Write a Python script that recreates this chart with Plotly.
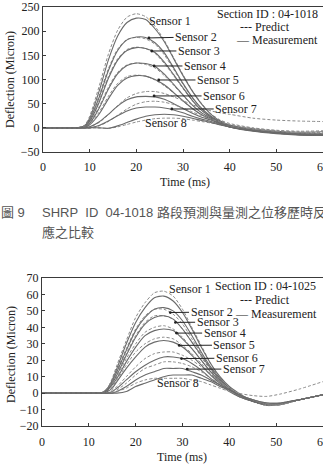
import plotly.graph_objects as go

# ---------------- data: chart 1 (Section ID 04-1018) ----------------
t1 = [0, 7, 8, 9, 10, 12, 14, 16, 18, 20, 22, 24, 26, 28, 30, 32, 34, 36, 38, 40, 45, 50, 55, 60]
meas1 = {
    "Sensor 1": [0, 0, 1, 5, 20, 75, 140, 190, 218, 227, 224, 205, 178, 143, 108, 76, 49, 28, 14, 6, -2, -7, -9, -8],
    "Sensor 2": [0, 0, 1, 4, 16, 62, 118, 160, 182, 188, 187, 176, 155, 124, 92, 63, 40, 24, 12, 5, -4, -9, -12, -12],
    "Sensor 3": [0, 0, 1, 3, 13, 52, 102, 140, 160, 166, 164, 156, 136, 110, 83, 57, 36, 22, 11, 4, -5, -10, -13, -14],
    "Sensor 4": [0, 0, 0, 2, 9, 40, 80, 112, 129, 134, 133, 127, 111, 90, 68, 47, 31, 20, 10, 3, -6, -11, -14, -15],
    "Sensor 5": [0, 0, 0, 1, 6, 28, 60, 88, 103, 108, 107, 100, 89, 73, 56, 40, 27, 18, 9, 2, -7, -12, -15, -16],
    "Sensor 6": [0, 0, 0, 0, 2, 12, 28, 45, 58, 64, 65, 64, 59, 50, 40, 30, 22, 16, 8, 2, -6, -11, -14, -15],
    "Sensor 7": [0, 0, 0, 0, 0, 5, 14, 25, 35, 41, 43, 43, 41, 37, 31, 24, 18, 13, 7, 2, -5, -10, -13, -14],
    "Sensor 8": [0, 0, 0, 0, 0, 0, -1, 4, 11, 18, 24, 27, 28, 27, 24, 20, 15, 11, 6, 2, -5, -10, -13, -14],
}
pred1 = {
    "Sensor 1": [0, 0, 1, 6, 24, 85, 152, 202, 229, 236, 230, 210, 181, 145, 110, 77, 50, 29, 16, 9, 0, -5, -7, -6],
    "Sensor 2": [0, 0, 1, 5, 18, 66, 122, 163, 183, 187, 184, 173, 151, 121, 90, 62, 40, 23, 12, 5, -3, -8, -11, -11],
    "Sensor 3": [0, 0, 1, 4, 15, 56, 106, 143, 162, 167, 164, 154, 133, 108, 81, 56, 36, 21, 11, 4, -4, -9, -12, -13],
    "Sensor 4": [0, 0, 1, 3, 11, 43, 84, 115, 130, 134, 131, 124, 108, 88, 67, 47, 31, 19, 9, 3, -5, -10, -13, -14],
    "Sensor 5": [0, 0, 0, 2, 8, 32, 65, 92, 106, 109, 107, 99, 87, 72, 55, 40, 27, 17, 8, 2, -6, -11, -14, -15],
    "Sensor 6": [0, 0, 0, 0, 2, 11, 27, 46, 62, 71, 75, 75, 71, 64, 56, 48, 41, 35, 31, 28, 20, 16, 14, 13],
    "Sensor 7": [0, 0, 0, 0, 0, 4, 13, 26, 39, 49, 54, 55, 53, 48, 41, 33, 25, 18, 12, 7, -1, -6, -9, -10],
    "Sensor 8": [0, 0, 0, 0, 0, 0, -1, 2, 7, 12, 16, 19, 20, 20, 19, 16, 13, 10, 6, 3, -3, -8, -11, -12],
}

# ---------------- data: chart 2 (Section ID 04-1025) ----------------
t2 = [0, 12, 13, 14, 15, 16, 18, 20, 22, 24, 26, 28, 30, 32, 34, 36, 38, 40, 42, 45, 48, 51, 55, 60]
meas2 = {
    "Sensor 1": [0, 0, 0.5, 3, 8, 15, 30, 43, 52, 58, 59, 56, 49, 39, 28, 18, 10, 4, 0, -5, -7, -6.5, -4, -1],
    "Sensor 2": [0, 0, 0.5, 2, 7, 13, 26, 38, 46, 51, 52, 50, 44, 35, 25, 16, 9, 3, -1, -5, -7, -6.5, -4, -1],
    "Sensor 3": [0, 0, 0, 2, 6, 11, 23, 34, 42, 46, 47, 45, 39, 31, 23, 15, 8, 3, -1, -5, -7, -6.5, -4, -1],
    "Sensor 4": [0, 0, 0, 2, 5, 9, 19, 28, 35, 38, 39, 38, 33, 27, 20, 13, 7, 2, -1, -5, -7, -6.5, -4, -1],
    "Sensor 5": [0, 0, 0, 1, 3, 7, 15, 22, 28, 31, 32, 31, 28, 23, 17, 11, 6, 2, -1, -5, -7, -6.5, -4, -1],
    "Sensor 6": [0, 0, 0, 0, 1, 3, 8, 13, 17, 20, 22, 22, 21, 18, 14, 9, 5, 1, -2, -5, -7, -6.5, -4, -1],
    "Sensor 7": [0, 0, 0, 0, 0, 1, 4, 8, 11, 13, 15, 15, 15, 13, 11, 8, 5, 2, -1, -4, -6, -6, -4, -1],
    "Sensor 8": [0, 0, 0, 0, 0, 0, 1, 4, 6, 8, 10, 11, 11, 11, 9, 7, 4, 2, -1, -4, -6, -6, -4, -1],
}
pred2 = {
    "Sensor 1": [0, 0, 0.5, 3, 9, 17, 32, 46, 55, 61, 62, 59, 51, 40, 29, 18, 9, 3, -1, -5, -7.5, -7, -4, -1],
    "Sensor 2": [0, 0, 0.5, 3, 8, 14, 27, 39, 47, 51, 51, 48, 42, 33, 24, 15, 8, 2, -2, -5, -7.5, -7, -4, -1],
    "Sensor 3": [0, 0, 0.5, 2, 7, 12, 24, 35, 43, 47, 47, 45, 39, 31, 22, 14, 7, 2, -2, -5, -7.5, -7, -4, -1],
    "Sensor 4": [0, 0, 0, 2, 6, 10, 21, 30, 37, 40, 41, 39, 34, 27, 20, 13, 7, 2, -2, -5, -7.5, -7, -4, -1],
    "Sensor 5": [0, 0, 0, 1, 4, 8, 17, 25, 30, 33, 34, 33, 29, 24, 18, 12, 6, 2, -2, -5, -7.5, -7, -4, -1],
    "Sensor 6": [0, 0, 0, 0, 2, 4, 10, 16, 21, 24, 25, 25, 23, 20, 16, 11, 7, 3, 0, -1.5, -2, -0.5, 2.5, 7],
    "Sensor 7": [0, 0, 0, 0, 1, 2, 6, 11, 15, 17, 19, 19, 18, 16, 13, 9, 6, 2, -1, -4, -7, -7, -4, -1],
    "Sensor 8": [0, 0, 0, 0, 0, 1, 3, 6, 8, 9, 9, 9, 9, 8, 7, 5, 3, 1, -1, -4, -6.5, -6.5, -4, -1],
}

# label positions (text centre) and arrow target points
labels1 = ["Sensor 1", "Sensor 2", "Sensor 3", "Sensor 4", "Sensor 5", "Sensor 6", "Sensor 7", "Sensor 8"]
label_txt1 = [(27.2, 221), (32.8, 188), (33.4, 159), (34.7, 128), (37.5, 99), (38.8, 66), (41.4, 39), (26.4, 10)]
label_pt1 = [None, (22.7, 186), (23.3, 159), (23.8, 128), (24.8, 99), (23.8, 66), (27.6, 39), None]
label_txt2 = [(31.7, 63.3), (36.2, 49.3), (37.5, 43.2), (39.0, 36.5), (41.1, 29.2), (41.6, 21.3), (43.1, 14.6), (29.1, 6.1)]
label_pt2 = [None, (27.4, 49), (28.5, 43), (28.7, 36.5), (29.3, 29), (29.8, 21), (31.0, 14.6), None]

xticks = [0, 10, 20, 30, 40, 50, 60]
yticks1 = [-50, 0, 50, 100, 150, 200, 250]
yticks2 = [-20, -10, 0, 10, 20, 30, 40, 50, 60, 70]

W, H = 323, 466
SERIF = "Liberation Serif, Times New Roman, serif"
TXT = "#222222"

fig = go.Figure()

def add_curves(t, meas, pred, xa, ya):
    for name in meas:
        fig.add_trace(go.Scatter(x=t, y=pred[name], mode="lines", xaxis=xa, yaxis=ya,
                                 line=dict(color="#8a8a8a", width=1, dash="3px,2px", shape="spline", smoothing=0.7),
                                 showlegend=False, hoverinfo="skip"))
        fig.add_trace(go.Scatter(x=t, y=meas[name], mode="lines", xaxis=xa, yaxis=ya,
                                 line=dict(color="#6a6a6a", width=1.1, shape="spline", smoothing=0.7),
                                 showlegend=False, hoverinfo="skip"))

add_curves(t1, meas1, pred1, "x", "y")
add_curves(t2, meas2, pred2, "x2", "y2")

axis_common = dict(showline=True, linecolor="#3a3a3a", linewidth=1.3, ticks="inside", ticklen=3,
                   tickcolor="#3a3a3a", showgrid=False, zeroline=False, automargin=False,
                   tickfont=dict(family=SERIF, size=12, color=TXT))

fig.update_layout(
    width=W, height=H, margin=dict(l=0, r=0, t=0, b=0, autoexpand=False),
    paper_bgcolor="white", plot_bgcolor="white",
    xaxis=dict(domain=[43 / W, 1.0], range=[0, 60], tickvals=xticks, mirror=True,
               anchor="y", ticklabeloverflow="allow", ticklabelstandoff=3, **axis_common),
    yaxis=dict(domain=[1 - 152 / H, 1 - 7 / H], range=[-50, 250], tickvals=yticks1,
               anchor="x", **axis_common),
    xaxis2=dict(domain=[42 / W, 1.0], range=[0, 60], tickvals=xticks, mirror=True,
                anchor="y2", ticklabeloverflow="allow", ticklabelstandoff=4, **axis_common),
    yaxis2=dict(domain=[1 - 426 / H, 1 - 278 / H], range=[-20, 70], tickvals=yticks2,
                anchor="x2", **axis_common),
)

ann = []

def add_labels(txt, pts, xr, yr):
    for name, (tx, ty), p in zip(labels1, txt, pts):
        if p is None:
            ann.append(dict(x=tx, y=ty, xref=xr, yref=yr, text=name, showarrow=False,
                            font=dict(family=SERIF, size=12, color=TXT)))
        else:
            ann.append(dict(x=p[0], y=p[1], xref=xr, yref=yr, ax=tx, ay=ty, axref=xr, ayref=yr,
                            text=name, showarrow=True, arrowhead=6, arrowsize=0.7, arrowwidth=1,
                            arrowcolor="#222222", standoff=0, startstandoff=0,
                            font=dict(family=SERIF, size=12, color=TXT)))

add_labels(label_txt1, label_pt1, "x", "y")
add_labels(label_txt2, label_pt2, "x2", "y2")

def ptext(px, py, text, anchor="left", size=12, family=SERIF, color=TXT, angle=0):
    ann.append(dict(x=px / W, y=1 - py / H, xref="paper", yref="paper", text=text, showarrow=False,
                    xanchor=anchor, yanchor="middle", textangle=angle,
                    font=dict(family=family, size=size, color=color)))

# legend-like texts
ptext(320, 14, "Section ID : 04-1018", anchor="right")
ptext(238, 27, "--- Predict")
ptext(320, 40, "—\u00a0Measurement", anchor="right")
ptext(318, 286, "Section ID : 04-1025", anchor="right")
ptext(238, 300, "--- Predict")
ptext(319, 314, "—\u00a0Measurement", anchor="right")

# axis titles
ptext(10, 80, "Deflection (Micron)", anchor="center", angle=-90)
ptext(185, 182, "Time (ms)", anchor="center")
ptext(11, 355, "Deflection (Micron)", anchor="center", angle=-90)
ptext(182, 457, "Time (ms)", anchor="center")

# caption between the charts
CAP = "Liberation Sans, Noto Sans CJK TC, sans-serif"
ptext(-1, 212, "圖 9", size=13, family=CAP, color="#555555")
ptext(40, 212, "SHRP\u00a0\u00a0ID\u00a0\u00a004-1018\u00a0路段預測與量測之位移歷時反",
      size=13, family=CAP, color="#555555")
ptext(40, 232, "應之比較", size=13, family=CAP, color="#555555")

fig.update_layout(annotations=ann)
fig.write_html("out.html")
